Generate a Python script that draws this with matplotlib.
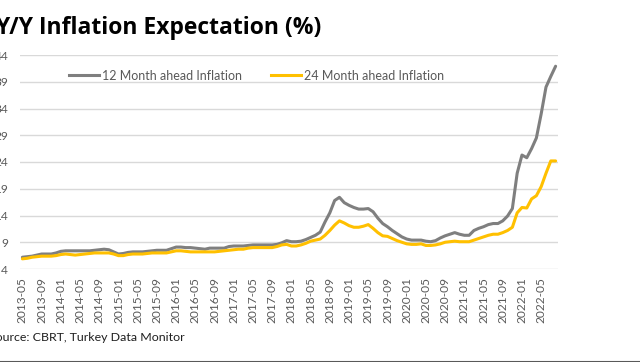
import matplotlib
matplotlib.use("Agg")
import matplotlib.pyplot as plt
import pandas as pd
from matplotlib.lines import Line2D

months = pd.date_range("2013-05-01", periods=112, freq="MS").strftime("%Y-%m").tolist()

exp_12m = [
    6.2, 6.3, 6.4, 6.6, 6.8, 6.8, 6.8, 7.0, 7.3, 7.4,
    7.4, 7.4, 7.4, 7.4, 7.4, 7.5, 7.6, 7.7, 7.6, 7.2,
    6.8, 6.9, 7.1, 7.2, 7.2, 7.2, 7.3, 7.4, 7.5, 7.5,
    7.5, 7.8, 8.1, 8.1, 8.0, 8.0, 7.9, 7.8, 7.7, 7.9,
    7.9, 7.9, 7.9, 8.2, 8.3, 8.3, 8.3, 8.4, 8.5, 8.5,
    8.5, 8.5, 8.5, 8.6, 8.9, 9.3, 9.1, 9.1, 9.2, 9.5,
    9.9, 10.3, 10.9, 12.8, 14.5, 16.8, 17.4, 16.4, 15.9, 15.5,
    15.2, 15.2, 15.3, 14.7, 13.5, 12.5, 11.9, 11.2, 10.6, 10.0,
    9.6, 9.4, 9.4, 9.4, 9.2, 9.1, 9.3, 9.8, 10.2, 10.5,
    10.8, 10.5, 10.3, 10.3, 11.2, 11.6, 11.9, 12.3, 12.5, 12.5,
    13.0, 13.9, 15.3, 21.9, 25.3, 24.8, 26.5, 28.5, 33.0, 38.0,
    40.0, 41.9,
]

exp_24m = [
    5.9, 6.0, 6.2, 6.3, 6.4, 6.4, 6.4, 6.5, 6.7, 6.8,
    6.7, 6.6, 6.7, 6.8, 6.9, 7.0, 7.0, 7.0, 7.0, 6.8,
    6.5, 6.5, 6.7, 6.8, 6.8, 6.8, 6.9, 7.0, 7.0, 7.0,
    7.0, 7.2, 7.4, 7.4, 7.3, 7.2, 7.2, 7.2, 7.2, 7.2,
    7.2, 7.3, 7.4, 7.5, 7.6, 7.7, 7.7, 7.9, 8.0, 8.0,
    8.0, 8.0, 8.0, 8.2, 8.5, 8.6, 8.3, 8.3, 8.5, 8.8,
    9.2, 9.4, 9.6, 10.3, 11.2, 12.2, 13.0, 12.6, 12.1, 11.8,
    11.8, 12.0, 12.3, 11.6, 10.8, 10.2, 10.1, 9.7, 9.3, 9.0,
    8.7, 8.6, 8.6, 8.7, 8.4, 8.4, 8.5, 8.7, 9.0, 9.1,
    9.2, 9.1, 9.1, 9.1, 9.4, 9.7, 10.0, 10.3, 10.5, 10.5,
    10.8, 11.2, 11.8, 14.5, 15.5, 15.4, 17.1, 17.7, 19.4, 21.9,
    24.2, 24.2,
]

series_names = ["12 Month ahead Inflation", "24 Month ahead Inflation"]
y_ticks = [4, 9, 14, 19, 24, 29, 34, 39, 44]

W, H = 640, 362
fig = plt.figure(figsize=(W / 100, H / 100), dpi=100)
ax = fig.add_axes([20 / W, 1 - 269 / H, (558 - 20) / W, (269 - 55) / H])

x = list(range(len(months)))
ax.plot(x, exp_12m, color="#7F7F7F", lw=2.2, solid_capstyle="round", zorder=3)
ax.plot(x, exp_24m, color="#FFC000", lw=2.2, solid_capstyle="round", zorder=3)

ax.set_xlim(-0.5, len(months) - 0.5)
ax.set_ylim(4, 44)
ax.set_yticks(y_ticks)
ax.set_yticklabels([str(v) for v in y_ticks])
tick_idx = list(range(0, len(months), 4))
ax.set_xticks(tick_idx)
ax.set_xticklabels([months[i] for i in tick_idx], rotation=90)

ax.grid(axis="y", color="#D9D9D9", lw=1.0, zorder=0)
for s in ["top", "right", "left", "bottom"]:
    ax.spines[s].set_visible(False)
ax.tick_params(axis="both", length=0, colors="#595959", labelsize=8.6)
ax.tick_params(axis="y", pad=8.5)
ax.tick_params(axis="x", pad=6)
for lab in ax.get_xticklabels() + ax.get_yticklabels():
    lab.set_fontfamily("Lato")

handles = [Line2D([], [], color="#7F7F7F", lw=2.2), Line2D([], [], color="#FFC000", lw=2.2)]
leg = fig.legend(handles, series_names, ncol=2, frameon=False,
                 loc="center left", bbox_to_anchor=(58 / W, 1 - 75.5 / H),
                 handlelength=2.4, handletextpad=0.25, columnspacing=2.3,
                 prop={"family": "Lato", "size": 9.0})
for t in leg.get_texts():
    t.set_color("#595959")

fig.text(321 / W, 1 - 34 / H, "Y/Y Inflation Expectation (%)", ha="right", va="baseline",
         fontsize=16.5, fontweight="bold", family="Open Sans", color="#000000")
fig.text(185 / W, 1 - 341 / H, "Source: CBRT, Turkey Data Monitor", ha="right", va="baseline",
         fontsize=8.9, family="Lato", color="#1F1F1F")
fig.add_artist(Line2D([0, 1], [0.5 / H, 0.5 / H], color="#595959", lw=1.5, transform=fig.transFigure))

fig.savefig("out.png", dpi=100)
